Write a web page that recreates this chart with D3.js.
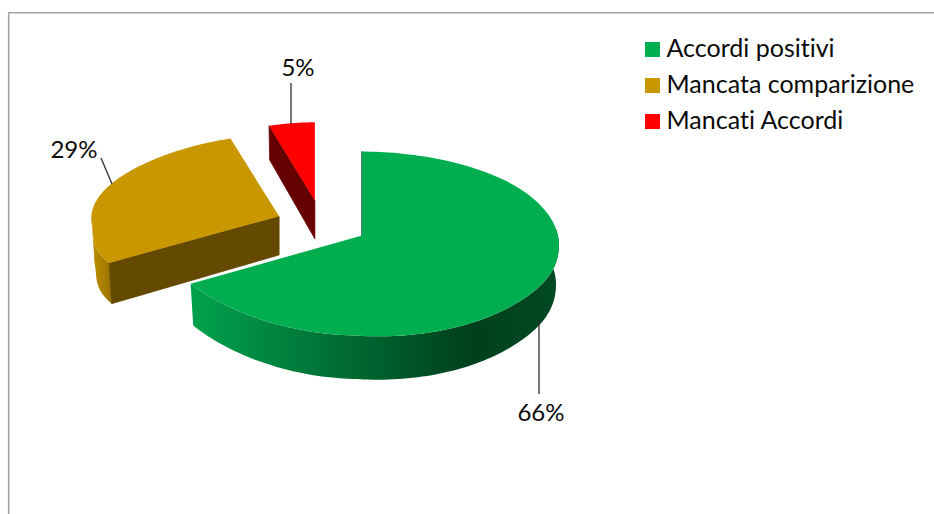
<!DOCTYPE html>
<html>
<head>
<meta charset="utf-8">
<script src="https://cdn.jsdelivr.net/npm/d3@7"></script>
<style>
  body { margin: 0; background: #fff; }
  text { font-family: Lato, "Open Sans", sans-serif; fill: #0a0a0a; font-variant-ligatures: none; }
</style>
</head>
<body>
<script>
const categories = ['Accordi positivi', 'Mancata comparizione', 'Mancati Accordi'];
const values = [66, 29, 5];
const topColors = ['#00ae50', '#c99700', '#ff0000'];
const wallColors = ['#00401d', '#634a00', '#660000'];

const width = 934;
const height = 514;
const fontSize = 25;
const labelFontSize = 24;

// tilted pie: left and right radius differ a little because of the view angle
const cx = 322;
const cy = 224.6;
const rimX = d3.scaleLinear().domain([-1, 0, 1]).range([-188, 0, 197]);
const explodeX = 0.24 * 190;
const explodeY = 0.27;
const depth = 39;

const canvas = d3.select('body').append('svg')
  .attr('width', width)
  .attr('height', height)
  .style('display', 'block');

canvas.append('path')
  .attr('d', `M8.7,${height + 5}V12.7H${width + 5}`)
  .attr('fill', 'none')
  .attr('stroke', '#a3a3a3')
  .attr('stroke-width', 1.6);

const defs = canvas.append('defs');

const greenWall = defs.append('linearGradient').attr('id', 'wall0');
[[0, '#00a24d'], [0.42, '#006b33'], [0.76, '#00401d'], [1, '#004a22']].forEach(([o, c]) => {
  greenWall.append('stop').attr('offset', o).attr('stop-color', c);
});
const yellowWall = defs.append('linearGradient').attr('id', 'wall1');
[[0, '#bd9000'], [1, '#9a7300']].forEach(([o, c]) => {
  yellowWall.append('stop').attr('offset', o).attr('stop-color', c);
});

// perspective: things further back (v < 0) get narrower and flatter, near right bulges
const widthAt = (u, v) => {
  if (v < 0) return 1 / (1 + 0.18 * v * v);
  return u < 0 ? 1 + 0.08 * (1 - Math.exp(-(v * v) / 0.09)) : 1;
};
const screenY = (u, v) => {
  const bulge = u > 0 ? 9 * Math.pow(u, 8) : 0;
  if (v < 0) return 92 * v / (1 - 0.11 * v) + bulge;
  if (u > 0 && v > 0.13) return 11.4 + (v - 0.13) * (100 + 8 * u) + bulge;
  return 84 * v * (1 + 0.133 * v * v) + bulge;
};
const depthAt = (v) => depth * (1 + 0.1 * v);

const pie = d3.pie().sort(null).value((d) => d).startAngle(0).endAngle(2 * Math.PI);
const line = d3.line();

const slices = pie(values).map((d) => {
  const mid = (d.startAngle + d.endAngle) / 2;
  const ax = cx + explodeX * Math.sin(mid);
  const ov = -explodeY * Math.cos(mid);
  const angles = d3.range(0, 161).map((i) => d.startAngle + (d.endAngle - d.startAngle) * i / 160);
  return { index: d.index, start: d.startAngle, end: d.endAngle, ax, ov, angles };
});

const pieGroup = canvas.append('g');

// green is in front, so it goes last. Only the faces turned to the viewer are drawn
[2, 1, 0].map((i) => slices[i]).forEach((s) => {
  const g = pieGroup.append('g');
  const point = (a, bottom) => {
    const u = Math.sin(a);
    const v = s.ov - Math.cos(a);
    const dx = rimX(u) * widthAt(u, v);
    return bottom
      ? [s.ax + dx * 0.985, cy + screenY(u, v) + depthAt(v)]
      : [s.ax + dx, cy + screenY(u, v)];
  };
  const apexTop = [s.ax, cy + screenY(0, s.ov)];
  const apexBottom = [s.ax, cy + screenY(0, s.ov) + depthAt(s.ov)];

  const front = s.angles.filter((a) => a > Math.PI * 0.44 && a < Math.PI * 1.5);
  if (front.length) {
    const rimTop = front.map((a) => point(a, false));
    const rimBottom = front.map((a) => point(a, true)).reverse();
    g.append('path')
      .attr('d', line(rimTop.concat(rimBottom)) + 'Z')
      .attr('fill', s.index < 2 ? `url(#wall${s.index})` : wallColors[s.index]);
  }

  if (-Math.sin(s.start) > -1e-6) {
    g.append('path')
      .attr('d', line([apexTop, point(s.start, false), point(s.start, true), apexBottom]) + 'Z')
      .attr('fill', wallColors[s.index])
      .attr('stroke', wallColors[s.index])
      .attr('stroke-width', 0.8);
  }
  if (Math.sin(s.end) > 1e-6) {
    g.append('path')
      .attr('d', line([apexTop, point(s.end, false), point(s.end, true), apexBottom]) + 'Z')
      .attr('fill', wallColors[s.index]);
  }

  g.append('path')
    .attr('d', line([apexTop].concat(s.angles.map((a) => point(a, false)))) + 'Z')
    .attr('fill', topColors[s.index]);
});

// data labels with leader lines
const labelLayout = [
  { x: 541, y: 421, line: [[539, 320], [539, 394]] },
  { x: 74, y: 158, line: [[101, 158], [112, 184]] },
  { x: 298, y: 76, line: [[291, 83], [291, 124]] }
];

const labels = canvas.append('g');
values.forEach((v, i) => {
  labels.append('path')
    .attr('d', line(labelLayout[i].line))
    .attr('stroke', '#303030')
    .attr('stroke-width', 1.3)
    .attr('fill', 'none');
  labels.append('text')
    .attr('x', labelLayout[i].x)
    .attr('y', labelLayout[i].y)
    .attr('text-anchor', 'middle')
    .attr('font-size', labelFontSize)
    .text(`${v}%`);
});

const legend = canvas.append('g');
const legendY = d3.scalePoint().domain(categories).range([42, 114]);
categories.forEach((c, i) => {
  legend.append('rect')
    .attr('x', 645)
    .attr('y', legendY(c))
    .attr('width', 15)
    .attr('height', 15)
    .attr('fill', topColors[i]);
  legend.append('text')
    .attr('x', 666.5)
    .attr('y', legendY(c) + 15)
    .attr('font-size', fontSize)
    .text(c);
});
</script>
</body>
</html>
